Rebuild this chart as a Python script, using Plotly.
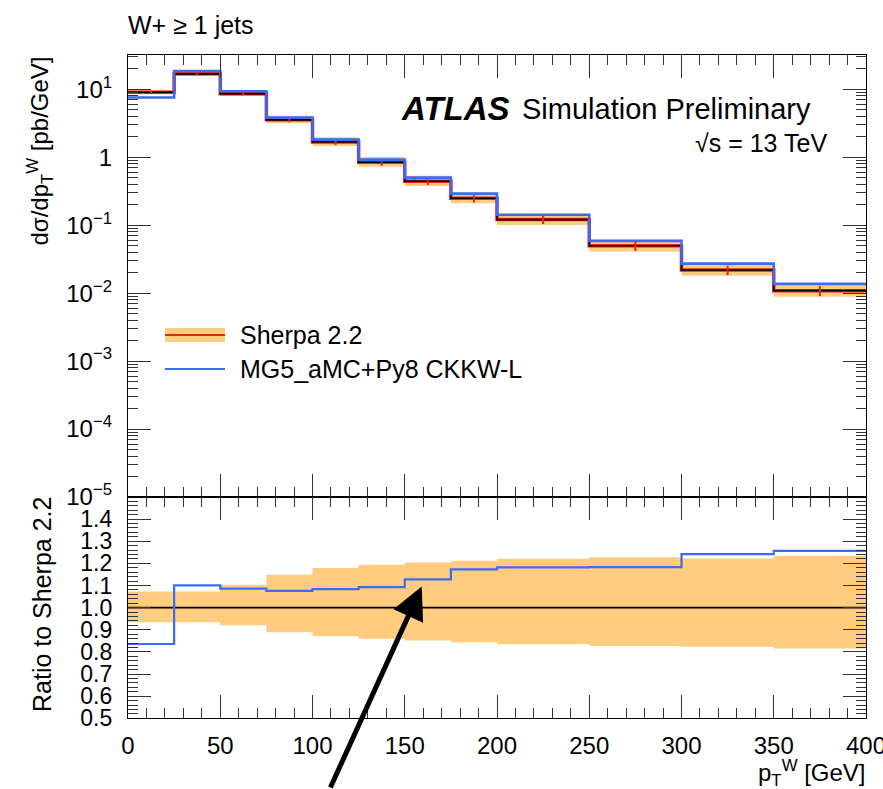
import plotly.graph_objects as go

W, H = 883, 789

# ---------------- data ----------------
bin_edges = [0, 25, 50, 75, 100, 125, 150, 175, 200, 250, 300, 350, 400]
sherpa = [9.07, 16.9, 8.65, 3.56, 1.68, 0.845, 0.445, 0.249, 0.121, 0.0498, 0.0219, 0.0109]
mg5 = [7.58, 18.6, 9.39, 3.83, 1.82, 0.923, 0.502, 0.292, 0.143, 0.0589, 0.0272, 0.0137]
sherpa_stat_rel = [0.05, 0.04, 0.05, 0.08, 0.10, 0.11, 0.12, 0.13, 0.14, 0.16, 0.16, 0.17]
band_up = [1.073, 1.073, 1.104, 1.149, 1.179, 1.194, 1.204, 1.212, 1.221, 1.228, 1.222, 1.234]
band_dn = [0.934, 0.934, 0.920, 0.889, 0.871, 0.860, 0.851, 0.844, 0.835, 0.827, 0.823, 0.815]

y_decades = [1e-5, 1e-4, 1e-3, 1e-2, 1e-1, 1, 10]
y_decade_labels = ["10<sup>\u22125</sup>", "10<sup>\u22124</sup>", "10<sup>\u22123</sup>",
                   "10<sup>\u22122</sup>", "10<sup>\u22121</sup>", "1", "10<sup>1</sup>"]
ratio_ticks = [0.5, 0.6, 0.7, 0.8, 0.9, 1.0, 1.1, 1.2, 1.3, 1.4]
x_ticks = [0, 50, 100, 150, 200, 250, 300, 350, 400]

# ---------------- helpers ----------------
def step(vals):
    return bin_edges, list(vals) + [vals[-1]]

centers = [(a + b) / 2 for a, b in zip(bin_edges[:-1], bin_edges[1:])]
ratio_mg5 = [m / s for m, s in zip(mg5, sherpa)]
top_up = [s * u for s, u in zip(sherpa, band_up)]
top_dn = [s * d for s, d in zip(sherpa, band_dn)]
stat_err = [s * e for s, e in zip(sherpa, sherpa_stat_rel)]

def px(x):
    return x / W

def py(y):
    return 1 - y / H

ORANGE = "#FFCC80"
RED = "#E8251A"
BLUE = "#3A6CF6"
FONT = "Liberation Sans, Arial, sans-serif"

fig = go.Figure()

# ---- top panel ----
xs, ys = step(top_dn)
fig.add_trace(go.Scatter(x=xs, y=ys, mode="lines", line=dict(width=0, shape="hv", color=ORANGE),
                         showlegend=False, hoverinfo="skip", xaxis="x", yaxis="y"))
xs, ys = step(top_up)
fig.add_trace(go.Scatter(x=xs, y=ys, mode="lines", line=dict(width=0, shape="hv", color=ORANGE),
                         fill="tonexty", fillcolor=ORANGE, showlegend=False, hoverinfo="skip",
                         xaxis="x", yaxis="y"))
xs, ys = step(sherpa)
fig.add_trace(go.Scatter(x=xs, y=ys, mode="lines", line=dict(width=3.5, shape="hv", color=RED),
                         showlegend=False, xaxis="x", yaxis="y"))
fig.add_trace(go.Scatter(x=xs, y=ys, mode="lines", line=dict(width=1.6, shape="hv", color="black"),
                         showlegend=False, xaxis="x", yaxis="y"))
fig.add_trace(go.Scatter(x=centers, y=sherpa, mode="markers", marker=dict(size=1, color=RED),
                         error_y=dict(type="data", array=stat_err, color=RED, thickness=2, width=0),
                         showlegend=False, xaxis="x", yaxis="y"))
xs, ys = step(mg5)
fig.add_trace(go.Scatter(x=xs, y=ys, mode="lines", line=dict(width=2.6, shape="hv", color=BLUE),
                         showlegend=False, xaxis="x", yaxis="y"))

# ---- ratio panel ----
xs, ys = step(band_dn)
fig.add_trace(go.Scatter(x=xs, y=ys, mode="lines", line=dict(width=0, shape="hv", color=ORANGE),
                         showlegend=False, hoverinfo="skip", xaxis="x2", yaxis="y2"))
xs, ys = step(band_up)
fig.add_trace(go.Scatter(x=xs, y=ys, mode="lines", line=dict(width=0, shape="hv", color=ORANGE),
                         fill="tonexty", fillcolor=ORANGE, showlegend=False, hoverinfo="skip",
                         xaxis="x2", yaxis="y2"))
fig.add_trace(go.Scatter(x=[bin_edges[0], bin_edges[-1]], y=[1, 1], mode="lines",
                         line=dict(width=1.6, color="black"), showlegend=False,
                         xaxis="x2", yaxis="y2"))
xs, ys = step(ratio_mg5)
fig.add_trace(go.Scatter(x=xs, y=ys, mode="lines", line=dict(width=2.2, shape="hv", color=BLUE),
                         showlegend=False, xaxis="x2", yaxis="y2"))

# minor log ticks
minor_log = []
for d in range(-5, 2):
    for m in range(2, 10):
        v = m * 10 ** d
        if v <= 32:
            minor_log.append(v)

x_dom = [px(128), px(866)]
top_dom = [py(497), py(54.7)]
rat_dom = [py(718.3), py(497)]

axis_common = dict(showline=True, linecolor="black", linewidth=1.2, mirror="ticks",
                   ticks="inside", tickcolor="#333", tickwidth=1.2, showgrid=False, zeroline=False,
                   automargin=False, ticklabeloverflow="allow")
minor_x = dict(dtick=10, tick0=0, ticklen=10, ticks="inside", tickcolor="#333", tickwidth=1.2)

fig.update_layout(
    width=W, height=H, autosize=False,
    margin=dict(l=0, r=0, t=0, b=0, pad=0),
    paper_bgcolor="white", plot_bgcolor="white",
    font=dict(family=FONT, size=24, color="black"),
    showlegend=False,
    xaxis=dict(domain=x_dom, anchor="y", range=[0, 400], tickvals=x_ticks, ticklen=23,
               showticklabels=False, minor=minor_x, **axis_common),
    yaxis=dict(domain=top_dom, anchor="x", type="log", range=[-5, 1.51], tickvals=y_decades,
               ticktext=y_decade_labels, ticklen=23, ticklabelstandoff=10,
               minor=dict(tickvals=minor_log, ticklen=10, ticks="inside", tickcolor="#333", tickwidth=1.2),
               **axis_common),
    xaxis2=dict(domain=x_dom, anchor="y2", range=[0, 400], matches="x", tickvals=x_ticks, ticklen=23,
                ticklabelstandoff=6, minor=minor_x, **axis_common),
    yaxis2=dict(domain=rat_dom, anchor="x2", range=[0.5, 1.5], tickvals=ratio_ticks,
                ticktext=["%.1f" % v for v in ratio_ticks], ticklen=23, ticklabelstandoff=10,
                tickfont=dict(size=23),
                minor=dict(dtick=0.02, tick0=0.5, ticklen=10, ticks="inside", tickcolor="#333", tickwidth=1.2),
                **axis_common),
)

# ---- legend (drawn) ----
fig.add_shape(type="rect", xref="paper", yref="paper", x0=px(165), x1=px(225), y0=py(342), y1=py(328),
              fillcolor=ORANGE, line=dict(width=0))
fig.add_shape(type="line", xref="paper", yref="paper", x0=px(165), x1=px(225), y0=py(335), y1=py(335),
              line=dict(color=RED, width=2))
fig.add_shape(type="line", xref="paper", yref="paper", x0=px(165), x1=px(225), y0=py(369), y1=py(369),
              line=dict(color=BLUE, width=2))

def text(x, y, s, size=24, xanchor="left", yanchor="middle", angle=0):
    fig.add_annotation(x=px(x), y=py(y), xref="paper", yref="paper", text=s, showarrow=False,
                       xanchor=xanchor, yanchor=yanchor, textangle=angle,
                       font=dict(family=FONT, size=size, color="black"))

text(238, 335, "Sherpa 2.2", size=25)
text(238, 369, "MG5_aMC+Py8 CKKW-L", size=25)

text(126, 25, "W+ \u2265 1 jets", size=25)
text(512, 108, "<b><i>ATLAS</i></b>", size=33, xanchor="right")
text(520, 109, "Simulation Preliminary", size=29)
text(829, 143, "\u221As = 13 TeV", size=25, xanchor="right")

text(40, 55, "d\u03c3/dp<sub>T</sub><sup>W</sup> [pb/GeV]", size=24, xanchor="center", yanchor="top", angle=-90)
text(42, 605, "Ratio to Sherpa 2.2", size=25, xanchor="center", yanchor="middle", angle=-90)
text(868, 773, "p<sub>T</sub><sup>W</sup> [GeV]", size=24, xanchor="right", yanchor="middle")

# arrow
fig.add_annotation(x=159.2, y=1.096, xref="x2", yref="y2", text="", showarrow=True,
                   ax=-92, ay=223, arrowhead=2, arrowsize=1.3, arrowwidth=5, arrowcolor="black",
                   standoff=0)

fig.write_html("out.html")
